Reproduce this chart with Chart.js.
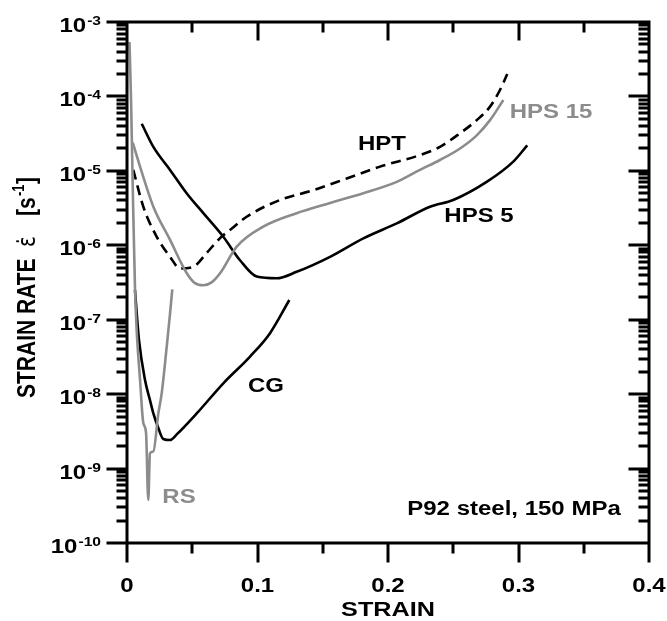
<!DOCTYPE html>
<html>
<head>
<meta charset="utf-8">
<script src="https://cdn.jsdelivr.net/npm/chart.js@4"></script>
<style>
  html, body { margin: 0; padding: 0; background: #fff; }
  canvas { display: block; }
</style>
</head>
<body>
<canvas id="rateChart" width="667" height="621"></canvas>
<script>
// strain / strain-rate curves
const rsStrain = [0.0019, 0.0031, 0.0046, 0.0061, 0.0074, 0.0100, 0.0125, 0.0146, 0.0163, 0.0176, 0.0202, 0.0240, 0.0266, 0.0304, 0.0330, 0.0347];
const rsRate = [5.4e-4, 9.0e-5, 4.1e-6, 2.75e-7, 7.3e-8, 1.55e-8, 4.1e-9, 3.0e-9, 3.8e-10, 1.6e-9, 1.7e-9, 5.5e-9, 1.03e-8, 4.3e-8, 1.22e-7, 2.56e-7];

const cgStrain = [0.0061, 0.0092, 0.0138, 0.0176, 0.0202, 0.0240, 0.0278, 0.0330, 0.0383, 0.0534, 0.0738, 0.0943, 0.1096, 0.1244];
const cgRate = [2.5e-7, 5.3e-8, 1.55e-8, 8.3e-9, 5.5e-9, 3.5e-9, 2.5e-9, 2.42e-9, 2.9e-9, 5.5e-9, 1.4e-8, 3.2e-8, 6.6e-8, 1.84e-7];

const hptStrain = [0.0048, 0.0125, 0.0228, 0.0330, 0.0406, 0.0508, 0.0611, 0.0713, 0.0789, 0.0917, 0.1172, 0.1428, 0.1684, 0.1939, 0.2245, 0.2398, 0.2552, 0.2680, 0.2782, 0.2858, 0.2914];
const hptRate = [1.03e-5, 3.3e-6, 1.3e-6, 7.0e-7, 4.9e-7, 5.15e-7, 7.9e-7, 1.25e-6, 1.6e-6, 2.42e-6, 4.06e-6, 5.5e-6, 7.9e-6, 1.14e-5, 1.63e-5, 2.1e-5, 3.2e-5, 4.8e-5, 7.3e-5, 1.22e-4, 2.0e-4];

const hps15Strain = [0.0044, 0.0100, 0.0202, 0.0330, 0.0457, 0.0521, 0.0585, 0.0651, 0.0713, 0.0841, 0.1044, 0.1300, 0.1556, 0.1811, 0.2067, 0.2245, 0.2398, 0.2552, 0.2680, 0.2782, 0.2884];
const hps15Rate = [2.4e-5, 1.14e-5, 3.3e-6, 1.18e-6, 4.25e-7, 3.1e-7, 2.9e-7, 3.2e-7, 4.2e-7, 9.6e-7, 1.78e-6, 2.7e-6, 3.7e-6, 5.0e-6, 7.1e-6, 1.03e-5, 1.4e-5, 2.0e-5, 3.0e-5, 4.8e-5, 8.95e-5];

const hps5Strain = [0.0113, 0.0202, 0.0330, 0.0457, 0.0585, 0.0738, 0.0866, 0.0994, 0.1147, 0.1300, 0.1556, 0.1811, 0.2067, 0.2322, 0.2500, 0.2756, 0.2960, 0.3067];
const hps5Rate = [4.3e-5, 2.1e-5, 1.03e-5, 5.0e-6, 2.7e-6, 1.3e-6, 6.3e-7, 3.8e-7, 3.6e-7, 4.4e-7, 7.0e-7, 1.24e-6, 1.97e-6, 3.3e-6, 4.06e-6, 7.1e-6, 1.33e-5, 2.2e-5];

// axes
const xTickValues = [0, 0.1, 0.2, 0.3, 0.4];
const xTickLabels = ['0', '0.1', '0.2', '0.3', '0.4'];
const xMinorValues = [0.05, 0.15, 0.25, 0.35];
const yExponents = [-3, -4, -5, -6, -7, -8, -9, -10];
const yMinorMantissas = [2, 3, 4, 5, 6, 7, 8, 9];

const BLACK = '#000000';
const GRAY = '#8c8c8c';
const FONT = '"Liberation Sans", Arial, sans-serif';
const SX = 1.2; // the source figure is stretched sideways

function pts(xs, ys) {
    return xs.map((x, i) => ({ x: x, y: ys[i] }));
}

function series(label, xs, ys, color, dash) {
    return {
        label: label,
        data: pts(xs, ys),
        borderColor: color,
        borderWidth: 2.6,
        borderDash: dash || [],
        showLine: true,
        fill: false,
        pointRadius: 0,
        cubicInterpolationMode: 'monotone'
    };
}

// stretched text helper
function txt(ctx, s, x, y, size, color, align) {
    ctx.save();
    ctx.translate(x, y);
    ctx.scale(SX, 1);
    ctx.font = 'bold ' + size + 'px ' + FONT;
    ctx.fillStyle = color;
    ctx.textAlign = align || 'center';
    ctx.textBaseline = 'alphabetic';
    ctx.fillText(s, 0, 0);
    ctx.restore();
}

// frame and tick marks
const framePlugin = {
    id: 'frame',
    afterDatasetsDraw(chart) {
        const ctx = chart.ctx;
        const a = chart.chartArea;
        const xs = chart.scales.x;
        const ys = chart.scales.y;

        ctx.save();
        ctx.setLineDash([]);
        ctx.strokeStyle = 'rgb(0, 0, 0)';
        ctx.lineCap = 'square';
        ctx.lineWidth = 3;
        ctx.beginPath();
        ctx.rect(a.left, a.top, a.right - a.left, a.bottom - a.top);

        // x ticks: bottom outward, top inward
        for (let i = 0; i < xTickValues.length; i++) {
            const px = Math.round(xs.getPixelForValue(xTickValues[i]));
            ctx.moveTo(px, a.bottom); ctx.lineTo(px, a.bottom + 18);
            ctx.moveTo(px, a.top); ctx.lineTo(px, a.top + 17);
        }
        for (let i = 0; i < xMinorValues.length; i++) {
            const px = Math.round(xs.getPixelForValue(xMinorValues[i]));
            ctx.moveTo(px, a.bottom); ctx.lineTo(px, a.bottom + 9);
            ctx.moveTo(px, a.top); ctx.lineTo(px, a.top + 9);
        }
        // y ticks: left outward, right inward
        for (let i = 0; i < yExponents.length; i++) {
            const dec = Math.pow(10, yExponents[i]);
            const py = Math.round(ys.getPixelForValue(dec));
            ctx.moveTo(a.left - 19, py); ctx.lineTo(a.left, py);
            ctx.moveTo(a.right - 19, py); ctx.lineTo(a.right, py);
            if (yExponents[i] === -3) continue;
            for (let j = 0; j < yMinorMantissas.length; j++) {
                const pm = Math.round(ys.getPixelForValue(yMinorMantissas[j] * dec));
                ctx.moveTo(a.left - 9, pm); ctx.lineTo(a.left, pm);
                ctx.moveTo(a.right - 9, pm); ctx.lineTo(a.right, pm);
            }
        }
        ctx.stroke();
        ctx.restore();
    }
};

// labels and titles
const labelPlugin = {
    id: 'labels',
    afterDraw(chart) {
        const ctx = chart.ctx;
        const a = chart.chartArea;
        const xs = chart.scales.x;
        const ys = chart.scales.y;

        for (let i = 0; i < xTickValues.length; i++) {
            txt(ctx, xTickLabels[i], xs.getPixelForValue(xTickValues[i]), a.bottom + 49, 20, BLACK, 'center');
        }
        for (let i = 0; i < yExponents.length; i++) {
            const e = yExponents[i];
            const py = ys.getPixelForValue(Math.pow(10, e));
            ctx.save();
            ctx.font = 'bold 13px ' + FONT;
            const ew = ctx.measureText(String(e)).width * SX;
            ctx.restore();
            txt(ctx, String(e), 101, py + 3, 13, BLACK, 'right');
            txt(ctx, '10', 100 - ew, py + 10, 20, BLACK, 'right');
        }

        txt(ctx, 'STRAIN', (a.left + a.right) / 2, 616, 21, BLACK, 'center');

        ctx.save();
        ctx.translate(35, 398);
        ctx.rotate(-Math.PI / 2);
        ctx.scale(1, SX);
        ctx.fillStyle = BLACK;
        ctx.textAlign = 'left';
        ctx.font = 'bold 21px ' + FONT;
        ctx.fillText('STRAIN RATE', 0, 0);
        ctx.font = '20px "DejaVu Sans", sans-serif';
        ctx.fillText('\u03B5\u0307', 151, 0);
        ctx.font = 'bold 21px ' + FONT;
        ctx.fillText('[s', 182, 0);
        ctx.font = 'bold 13px ' + FONT;
        ctx.fillText('-1', 202, -9);
        ctx.font = 'bold 21px ' + FONT;
        ctx.fillText(']', 214, 0);
        ctx.restore();

        txt(ctx, 'HPT', 382, 150, 20, BLACK, 'center');
        txt(ctx, 'HPS 15', 551, 118, 20, GRAY, 'center');
        txt(ctx, 'HPS 5', 479, 222, 20, BLACK, 'center');
        txt(ctx, 'CG', 266, 392, 20, BLACK, 'center');
        txt(ctx, 'RS', 179, 503, 20, GRAY, 'center');
        txt(ctx, 'P92 steel, 150 MPa', 514, 515, 20, BLACK, 'center');
    }
};

new Chart(document.getElementById('rateChart'), {
    type: 'scatter',
    data: {
        datasets: [
            series('RS', rsStrain, rsRate, GRAY),
            series('HPS 15', hps15Strain, hps15Rate, GRAY),
            series('CG', cgStrain, cgRate, BLACK),
            series('HPT', hptStrain, hptRate, BLACK, [10, 6]),
            series('HPS 5', hps5Strain, hps5Rate, BLACK)
        ]
    },
    options: {
        responsive: false,
        animation: false,
        layout: {
            padding: { left: 127, top: 22, right: 18, bottom: 78 }
        },
        plugins: {
            legend: { display: false },
            tooltip: { enabled: false }
        },
        scales: {
            x: { type: 'linear', min: 0, max: 0.4, display: false },
            y: { type: 'logarithmic', min: 1e-10, max: 1e-3, display: false }
        }
    },
    plugins: [framePlugin, labelPlugin]
});
</script>
</body>
</html>
